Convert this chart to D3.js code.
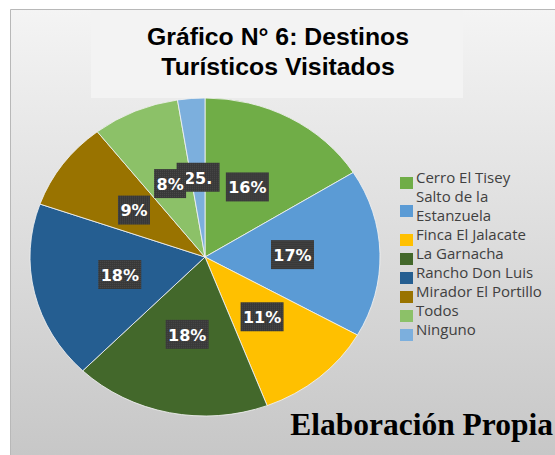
<!DOCTYPE html>
<html>
<head>
<meta charset="utf-8">
<script src="https://cdn.jsdelivr.net/npm/d3@7"></script>
<style>
  body { margin: 0; background: #fff; }
  svg { display: block; }
</style>
</head>
<body>
<svg id="chart" width="555" height="455"></svg>
<script>
// data
var destinos = ['Cerro El Tisey', 'Salto de la Estanzuela', 'Finca El Jalacate', 'La Garnacha',
                'Rancho Don Luis', 'Mirador El Portillo', 'Todos', 'Ninguno'];
var porcentajes = [16, 17, 11, 18, 18, 9, 8, 2.5];
var etiquetas = ['16%', '17%', '11%', '18%', '18%', '9%', '8%', '25.'];
var colores = ['#70ad47', '#5b9bd5', '#ffc000', '#43682b', '#255e91', '#997300', '#8cc168', '#7cafdd'];

var svg = d3.select('#chart');
var defs = svg.append('defs');

var grad = defs.append('linearGradient')
    .attr('id', 'fondo').attr('x1', 0).attr('y1', 0).attr('x2', 0).attr('y2', 1);
grad.append('stop').attr('offset', '0%').attr('stop-color', '#f4f4f4');
grad.append('stop').attr('offset', '100%').attr('stop-color', '#c7c7c7');

// dotted texture of the label boxes
var pat = defs.append('pattern')
    .attr('id', 'puntos').attr('width', 2).attr('height', 2)
    .attr('patternUnits', 'userSpaceOnUse');
pat.append('rect').attr('width', 2).attr('height', 2).attr('fill', '#383838');
pat.append('rect').attr('width', 1).attr('height', 1).attr('fill', '#4a4a4a');

// panel
svg.append('rect')
    .attr('x', 10).attr('y', 9).attr('width', 545).attr('height', 446)
    .attr('fill', 'url(#fondo)');
svg.append('path')
    .attr('d', 'M10.5,455 V9.5 H555')
    .attr('fill', 'none').attr('stroke', '#b8b8b8').attr('stroke-width', 1);

// title box
svg.append('rect')
    .attr('x', 91).attr('y', 10).attr('width', 372).attr('height', 88)
    .attr('fill', '#f3f3f3');

svg.append('text')
    .attr('x', 278).attr('y', 45)
    .attr('text-anchor', 'middle')
    .attr('font-family', 'Liberation Sans, Arial, sans-serif')
    .attr('font-weight', 'bold').attr('font-size', 24.8)
    .attr('fill', '#000')
    .text('Gráfico N° 6: Destinos');
svg.append('text')
    .attr('x', 278).attr('y', 75)
    .attr('text-anchor', 'middle')
    .attr('font-family', 'Liberation Sans, Arial, sans-serif')
    .attr('font-weight', 'bold').attr('font-size', 24.8)
    .attr('fill', '#000')
    .text('Turísticos Visitados');

// pie (slightly stretched horizontally, like the picture)
var cx = 205, cy = 257, r = 159, sx = 175 / 159;

var pie = d3.pie().sort(null).value(function(d) { return d; });
var arcs = pie(porcentajes);
var arc = d3.arc().innerRadius(0).outerRadius(r);
var labelArc = d3.arc().innerRadius(r * 0.5).outerRadius(r * 0.5);

var g = svg.append('g')
    .attr('transform', 'translate(' + cx + ',' + cy + ') scale(' + sx + ',1)');

g.selectAll('path')
    .data(arcs).enter()
    .append('path')
      .attr('d', arc)
      .attr('fill', function(d, i) { return colores[i]; })
      .attr('stroke', '#f2f2f2')
      .attr('stroke-width', 0.8);

var labels = svg.append('g')
    .attr('transform', 'translate(' + cx + ',' + cy + ')')
    .selectAll('g')
    .data(arcs).enter()
    .append('g')
      .attr('transform', function(d) {
          var c = labelArc.centroid(d);
          return 'translate(' + (c[0] * sx) + ',' + c[1] + ')';
      });

labels.append('rect')
    .attr('x', function(d, i) { return -(etiquetas[i].length * 11 + 10) / 2; })
    .attr('y', -15)
    .attr('width', function(d, i) { return etiquetas[i].length * 11 + 10; })
    .attr('height', 29)
    .attr('fill', 'url(#puntos)');

labels.append('text')
    .attr('text-anchor', 'middle')
    .attr('dy', '0.36em')
    .attr('font-family', 'DejaVu Sans, sans-serif')
    .attr('font-weight', 'bold').attr('font-size', 16)
    .attr('fill', '#fff')
    .text(function(d, i) { return etiquetas[i]; });

// the "Todos" label sits over the "Ninguno" one
labels.filter(function(d, i) { return i === 6; }).raise();

// legend
var leyenda = [
    {t: ['Cerro El Tisey'], y: 183},
    {t: ['Salto de la', 'Estanzuela'], y: 211},
    {t: ['Finca El Jalacate'], y: 240},
    {t: ['La Garnacha'], y: 259},
    {t: ['Rancho Don Luis'], y: 278},
    {t: ['Mirador El Portillo'], y: 297},
    {t: ['Todos'], y: 316},
    {t: ['Ninguno'], y: 335}
];

var leg = svg.append('g')
    .attr('font-family', 'Open Sans, sans-serif')
    .attr('font-size', 15)
    .attr('fill', '#404040')
    .selectAll('g')
    .data(leyenda).enter()
    .append('g')
      .attr('transform', function(d) { return 'translate(400,' + d.y + ')'; });

leg.append('rect')
    .attr('x', 0).attr('y', -6).attr('width', 13).attr('height', 12)
    .attr('fill', function(d, i) { return colores[i]; });

leg.append('text')
    .attr('x', 16)
    .attr('y', function(d) { return d.t.length > 1 ? -9.5 : 0; })
    .attr('dy', '0.36em')
    .selectAll('tspan')
    .data(function(d) { return d.t; }).enter()
    .append('tspan')
      .attr('x', 16)
      .attr('dy', function(d, i) { return i === 0 ? 0 : 19; })
      .text(function(d) { return d; });

// source note
svg.append('text')
    .attr('x', 553).attr('y', 435)
    .attr('text-anchor', 'end')
    .attr('font-family', 'Liberation Serif, Times New Roman, serif')
    .attr('font-weight', 'bold').attr('font-size', 31.5)
    .attr('fill', '#000')
    .text('Elaboración Propia');
</script>
</body>
</html>
